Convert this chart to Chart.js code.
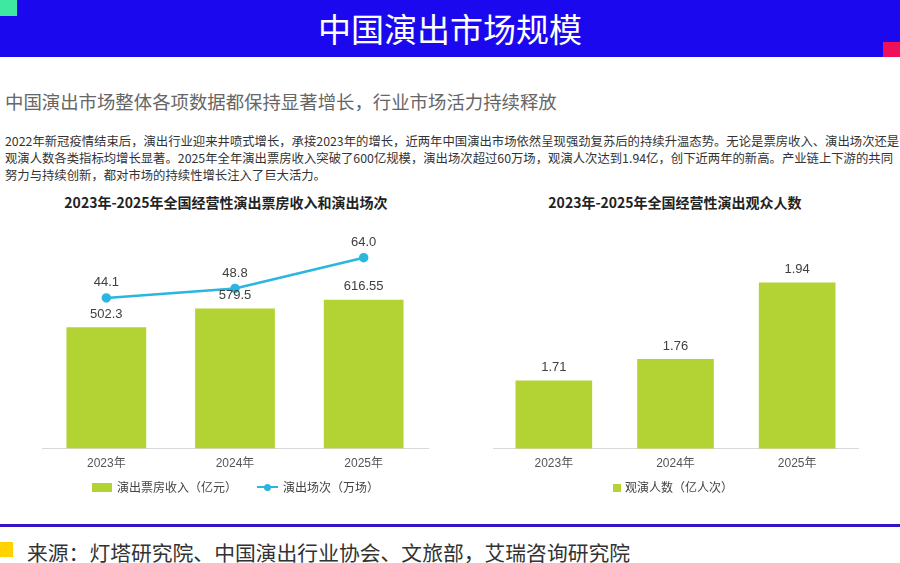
<!DOCTYPE html>
<html>
<head>
<meta charset="utf-8">
<script src="https://cdn.jsdelivr.net/npm/chart.js@4"></script>
<style>
  body { margin:0; width:900px; height:563px; overflow:hidden; background:#fff;
         font-family:"Liberation Sans","Noto Sans CJK SC",sans-serif; position:relative; }
  .abs { position:absolute; }
  #header { left:0; top:0; width:900px; height:57px; background:#1c08ef; }
  #title { left:0; top:0; width:900px; height:57px; line-height:57px; text-align:center;
           color:#fff; font-size:33px; font-family:"Noto Sans CJK SC",sans-serif; }
  #subtitle { left:5px; top:88px; font-size:18.4px; color:#666; font-family:"Noto Sans CJK SC",sans-serif; white-space:nowrap; }
  #para { left:5px; top:133px; font-size:12.35px; line-height:17px; color:#333; white-space:nowrap;
          font-family:"Noto Sans CJK SC",sans-serif; }
  .ctitle { top:192px; font-size:14px; font-weight:bold; color:#222; text-align:center;
            font-family:"Noto Sans CJK SC",sans-serif; white-space:nowrap; }
  .legend { font-size:12px; color:#444; font-family:"Noto Sans CJK SC",sans-serif; white-space:nowrap; line-height:16px; }
  #footline { left:0; top:524px; width:900px; height:3px; background:#3414c4; }
  #source { left:27px; top:538px; font-size:20.8px; color:#333; font-family:"Noto Sans CJK SC",sans-serif; white-space:nowrap; line-height:29px; }
</style>
</head>
<body>
<div id="header" class="abs"></div>
<div class="abs" style="left:0;top:0;width:17px;height:16px;background:#3ee8a0"></div>
<div class="abs" style="left:883px;top:42px;width:17px;height:15px;background:#f0105a"></div>
<div id="title" class="abs">中国演出市场规模</div>

<div id="subtitle" class="abs">中国演出市场整体各项数据都保持显著增长，行业市场活力持续释放</div>
<div id="para" class="abs">2022年新冠疫情结束后，演出行业迎来井喷式增长，承接2023年的增长，近两年中国演出市场依然呈现强劲复苏后的持续升温态势。无论是票房收入、演出场次还是<br>观演人数各类指标均增长显著。2025年全年演出票房收入突破了600亿规模，演出场次超过60万场，观演人次达到1.94亿，创下近两年的新高。产业链上下游的共同<br>努力与持续创新，都对市场的持续性增长注入了巨大活力。</div>

<div class="abs ctitle" style="left:0;width:452px">2023年-2025年全国经营性演出票房收入和演出场次</div>
<div class="abs ctitle" style="left:450px;width:450px">2023年-2025年全国经营性演出观众人数</div>

<div class="abs" style="left:0;top:190px;width:450px;height:290px"><canvas id="left"></canvas></div>
<div class="abs" style="left:450px;top:190px;width:450px;height:290px"><canvas id="right"></canvas></div>

<!-- legends -->
<div class="abs" style="left:92px;top:483px;width:20px;height:9px;background:#b3d335"></div>
<div class="abs legend" style="left:117px;top:479px">演出票房收入（亿元）</div>
<div class="abs" style="left:257px;top:486px;width:21px;height:2px;background:#2bb6e0"></div>
<div class="abs" style="left:264px;top:483.5px;width:7px;height:7px;border-radius:50%;background:#2bb6e0"></div>
<div class="abs legend" style="left:283px;top:479px">演出场次（万场）</div>
<div class="abs" style="left:613px;top:484px;width:8px;height:8px;background:#b3d335"></div>
<div class="abs legend" style="left:625px;top:479px">观演人数（亿人次）</div>

<div id="footline" class="abs"></div>
<div class="abs" style="left:0;top:542px;width:13px;height:15px;background:#ffd200"></div>
<div id="source" class="abs">来源：灯塔研究院、中国演出行业协会、文旅部，艾瑞咨询研究院</div>

<script>
// data
const years = ['2023年', '2024年', '2025年'];
const boxOffice = [502.3, 579.5, 616.55];      // 演出票房收入（亿元）
const shows = [44.1, 48.8, 64.0];               // 演出场次（万场）
const audience = [1.71, 1.76, 1.94];            // 观演人数（亿人次）

const green = '#b3d335';
const cyan = '#2bb6e0';

// draws the value above each bar / point
const valueLabels = {
  id: 'valueLabels',
  afterDatasetsDraw(chart) {
    const ctx = chart.ctx;
    ctx.save();
    ctx.font = '13px "Liberation Sans", Arial, sans-serif';
    ctx.fillStyle = '#404040';
    ctx.textAlign = 'center';
    ctx.textBaseline = 'middle';
    chart.data.datasets.forEach((ds, i) => {
      const meta = chart.getDatasetMeta(i);
      meta.data.forEach((el, j) => {
        const off = ds.type === 'line' ? 15 : 13;
        ctx.fillText(ds.labels[j], el.x, el.y - off);
      });
    });
    ctx.restore();
  }
};

const xAxis = {
  grid: { display: false, drawTicks: false },
  border: { display: true, color: '#d9d9d9', width: 1 },
  ticks: { color: '#555', padding: 8, font: { size: 12, family: '"Liberation Sans","Noto Sans CJK SC",sans-serif' } }
};

new Chart(document.getElementById('left'), {
  type: 'bar',
  data: {
    labels: years,
    datasets: [
      {
        type: 'line',
        data: shows,
        labels: shows.map(v => v.toFixed(1)),
        yAxisID: 'y1',
        borderColor: cyan,
        backgroundColor: cyan,
        borderWidth: 2.5,
        pointRadius: 3.5,
        tension: 0,
        order: 0
      },
      {
        type: 'bar',
        data: boxOffice,
        labels: boxOffice.map(String),
        yAxisID: 'y',
        backgroundColor: green,
        categoryPercentage: 1,
        barPercentage: 0.62,
        order: 1
      }
    ]
  },
  options: {
    responsive: true,
    maintainAspectRatio: false,
    animation: false,
    layout: { padding: { top: 17, left: 42, right: 22, bottom: 1 } },
    plugins: { legend: { display: false }, tooltip: { enabled: false } },
    scales: {
      x: xAxis,
      y: { display: false, min: 0, max: 1000 },
      y1: { display: false, min: -30.5, max: 89.1 }
    }
  },
  plugins: [valueLabels]
});

new Chart(document.getElementById('right'), {
  type: 'bar',
  data: {
    labels: years,
    datasets: [{
      data: audience,
      labels: audience.map(String),
      backgroundColor: green,
      categoryPercentage: 1,
      barPercentage: 0.63
    }]
  },
  options: {
    responsive: true,
    maintainAspectRatio: false,
    animation: false,
    layout: { padding: { top: 17, left: 43, right: 42, bottom: 1 } },
    plugins: { legend: { display: false }, tooltip: { enabled: false } },
    scales: {
      x: xAxis,
      y: { display: false, min: 1.55, max: 2.117 }
    }
  },
  plugins: [valueLabels]
});
</script>
</body>
</html>
